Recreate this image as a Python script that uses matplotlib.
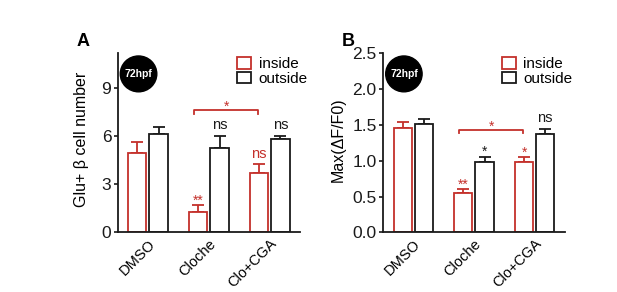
import numpy as np
import matplotlib
matplotlib.use("Agg")
import matplotlib.pyplot as plt
import matplotlib.transforms as mtrans
from matplotlib.patches import Circle

plt.rcParams['font.family'] = ['Liberation Sans', 'DejaVu Sans']

groups = ['DMSO', 'Cloche', 'Clo+CGA']

# panel A: Glu+ beta cell number
cells_in = [4.95, 1.26, 3.70]
cells_in_err = [0.72, 0.46, 0.56]
cells_out = [6.15, 5.27, 5.85]
cells_out_err = [0.47, 0.78, 0.20]
cells_in_marks = ['', '**', 'ns']
cells_out_marks = ['', 'ns', 'ns']

# panel B: Max(dF/F0)
dff_in = [1.46, 0.555, 0.99]
dff_in_err = [0.085, 0.05, 0.06]
dff_out = [1.51, 0.98, 1.37]
dff_out_err = [0.08, 0.08, 0.075]
dff_in_marks = ['', '**', '*']
dff_out_marks = ['', '*', 'ns']

red = '#c4302b'
blk = '#1a1a1a'


def panel(ax, vin, ein, vout, eout, mk_in, mk_out, ymax, ticks, fmt,
          ylabel, labx, letter, bracket_y, bracket_tick, mark_off):
    x = np.arange(len(groups))
    off, w = 0.175, 0.30
    ax.bar(x - off, vin, w, facecolor='white', edgecolor=red, linewidth=1.3,
           label='inside', zorder=2)
    ax.bar(x + off, vout, w, facecolor='white', edgecolor=blk, linewidth=1.3,
           label='outside', zorder=2)
    ax.errorbar(x - off, vin, yerr=[np.zeros(3), ein], fmt='none',
                ecolor=red, elinewidth=1.3, capsize=4, capthick=1.3, zorder=1)
    ax.errorbar(x + off, vout, yerr=[np.zeros(3), eout], fmt='none',
                ecolor=blk, elinewidth=1.3, capsize=4, capthick=1.3, zorder=1)

    for i in range(3):
        for xx, v, e, m, c in [(x[i] - off, vin[i], ein[i], mk_in[i], red),
                               (x[i] + off, vout[i], eout[i], mk_out[i], blk)]:
            if not m:
                continue
            if m == 'ns':
                ax.text(xx, v + e + mark_off * 0.9, m, ha='center', va='bottom',
                        color=c, fontsize=10.5)
            else:
                ax.text(xx, v + e - mark_off * 0.6, m, ha='center', va='bottom',
                        color=c, fontsize=10)

    # bracket between Cloche and Clo+CGA (inside)
    x1, x2 = x[1] - off - 0.07, x[2] - off - 0.01
    ax.plot([x1, x1, x2, x2], [bracket_tick, bracket_y, bracket_y, bracket_tick],
            color=red, lw=1.3, clip_on=False)
    ax.text((x1 + x2) / 2, bracket_y - mark_off * 0.9, '*', ha='center',
            va='bottom', color=red, fontsize=10)

    ax.set_xlim(-0.5, 2.5)
    ax.set_ylim(0, ymax)
    ax.set_yticks(ticks)
    ax.set_yticklabels([fmt.format(t) for t in ticks], fontsize=12.5)
    ax.set_xticks(x)
    ax.set_xticklabels(groups, rotation=45, ha='right', rotation_mode='anchor',
                       fontsize=10.5)
    shift = mtrans.ScaledTranslation(6 / 100, 0, ax.figure.dpi_scale_trans)
    for lab in ax.get_xticklabels():
        lab.set_transform(lab.get_transform() + shift)
    ax.tick_params(axis='y', length=3, width=1.2, pad=1.5, colors=blk)
    ax.tick_params(axis='x', length=0, pad=3)
    for s in ['top', 'right']:
        ax.spines[s].set_visible(False)
    for s in ['left', 'bottom']:
        ax.spines[s].set_linewidth(1.3)
        ax.spines[s].set_color(blk)
    ax.set_ylabel(ylabel, fontsize=11.5)
    ax.yaxis.set_label_coords(labx, 0.52)

    ax.legend(loc='upper right', bbox_to_anchor=(1.1, 1.04), frameon=False,
              fontsize=11, handlelength=0.9, handleheight=0.8,
              handletextpad=0.5, labelspacing=0.05, borderpad=0.2)

    circ = Circle((0.115, 0.885), 0.1, transform=ax.transAxes, color='black',
                  clip_on=False, zorder=5)
    ax.add_patch(circ)
    ax.text(0.115, 0.885, '72hpf', transform=ax.transAxes, color='white',
            fontsize=7.5, fontweight='bold', ha='center', va='center', zorder=6)
    ax.text(-0.19, 1.065, letter, transform=ax.transAxes, fontsize=13,
            fontweight='bold', ha='center', va='center')


fig = plt.figure(figsize=(6.17, 2.92), dpi=100)
axA = fig.add_axes([0.1905, 0.2038, 0.296, 0.6137])
axB = fig.add_axes([0.6207, 0.2038, 0.295, 0.6137])

panel(axA, cells_in, cells_in_err, cells_out, cells_out_err,
      cells_in_marks, cells_out_marks, 11.2, [0, 3, 6, 9], '{:g}',
      'Glu+ β cell number', -0.155, 'A', 7.63, 7.4, 0.25)
panel(axB, dff_in, dff_in_err, dff_out, dff_out_err,
      dff_in_marks, dff_out_marks, 2.5, [0, 0.5, 1.0, 1.5, 2.0, 2.5], '{:.1f}',
      'Max(ΔF/F0)', -0.205, 'B', 1.43, 1.385, 0.056)

fig.savefig('out.png', dpi=100)
